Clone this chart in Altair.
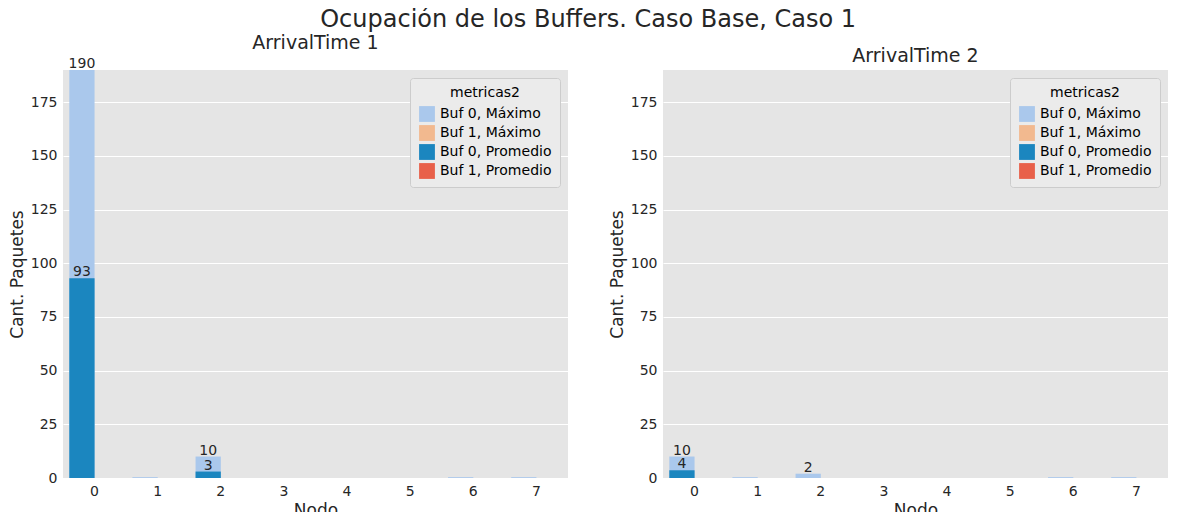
import altair as alt
import pandas as pd

nodos = [0, 1, 2, 3, 4, 5, 6, 7]
series = ["Buf 0, Máximo", "Buf 1, Máximo", "Buf 0, Promedio", "Buf 1, Promedio"]
colores = ["#aac8ec", "#f2b98f", "#1b86bf", "#e8604a"]

# panel 1: ArrivalTime 1
at1_buf0_max = [190, 0.4, 10, 0, 0, 0, 0.4, 0.4]
at1_buf1_max = [0, 0, 0, 0, 0, 0, 0, 0]
at1_buf0_prom = [93, 0, 3, 0, 0, 0, 0, 0]
at1_buf1_prom = [0, 0, 0, 0, 0, 0, 0, 0]
# panel 2: ArrivalTime 2
at2_buf0_max = [10, 0.4, 2, 0, 0, 0, 0.4, 0.4]
at2_buf1_max = [0, 0, 0, 0, 0, 0, 0, 0]
at2_buf0_prom = [3.6, 0, 0, 0, 0, 0, 0, 0]
at2_buf1_prom = [0, 0, 0, 0, 0, 0, 0, 0]


def make_df(b0max, b1max, b0prom, b1prom):
    rows = []
    for vals, name, buf, capa in [(b0max, series[0], "Buf 0", 0), (b1max, series[1], "Buf 1", 0),
                                  (b0prom, series[2], "Buf 0", 1), (b1prom, series[3], "Buf 1", 1)]:
        for n, v in zip(nodos, vals):
            rows.append({"Nodo": n, "valor": v, "metricas2": name, "buf": buf, "capa": capa,
                         "label": str(round(v)) if v >= 1 else ""})
    return pd.DataFrame(rows)


def panel(df, title):
    x = alt.X("Nodo:O", title="Nodo", scale=alt.Scale(paddingInner=0.2, paddingOuter=0.1),
              axis=alt.Axis(labelAngle=0))
    xo = alt.XOffset("buf:N", scale=alt.Scale(domain=["Buf 0", "Buf 1"]))
    y = alt.Y("valor:Q", title="Cant. Paquetes", scale=alt.Scale(domain=[0, 190], nice=False),
              axis=alt.Axis(values=[0, 25, 50, 75, 100, 125, 150, 175]))
    color = alt.Color("metricas2:N", title="metricas2",
                      scale=alt.Scale(domain=series, range=colores), sort=series,
                      legend=alt.Legend(orient="top-right", fillColor="#ebebeb", padding=8,
                                        strokeColor="#cccccc", cornerRadius=3, offset=8,
                                        symbolType="square", symbolSize=250))
    base = alt.Chart(df)
    maxb = base.transform_filter("datum.capa == 0").mark_bar().encode(x=x, xOffset=xo, y=y, color=color)
    prom = base.transform_filter("datum.capa == 1").mark_bar().encode(x=x, xOffset=xo, y=y, color=color)
    txt = base.mark_text(dy=-6, fontSize=14, color="#262626").encode(
        x=x, xOffset=xo, y=y, text="label:N")
    return (maxb + prom + txt).properties(width=505, height=408, title=title)


p1 = panel(make_df(at1_buf0_max, at1_buf1_max, at1_buf0_prom, at1_buf1_prom), "ArrivalTime 1")
p2 = panel(make_df(at2_buf0_max, at2_buf1_max, at2_buf0_prom, at2_buf1_prom), "ArrivalTime 2")

chart = alt.hconcat(p1, p2, spacing=40).resolve_scale(color="independent").resolve_legend(
    color="independent"
).properties(
    title=alt.Title("Ocupación de los Buffers. Caso Base, Caso 1", fontSize=24, fontWeight="normal",
                    anchor="middle", color="#262626", offset=2),
    padding={"left": 0, "top": 0, "right": 0, "bottom": 0}
).configure_view(fill="#e5e5e5", stroke=None).configure_axis(
    grid=True, gridColor="white", gridWidth=1, domain=False, ticks=False,
    labelFontSize=14, titleFontSize=17, titleFontWeight="normal", labelColor="#262626",
    titleColor="#262626", labelFont="DejaVu Sans", titleFont="DejaVu Sans", labelPadding=6
).configure_axisX(grid=False).configure_title(
    fontSize=19, fontWeight="normal", font="DejaVu Sans", color="#262626", offset=4
).configure_legend(
    labelFontSize=14, titleFontSize=14, titleFontWeight="normal", labelFont="DejaVu Sans",
    titleFont="DejaVu Sans", titleAnchor="middle"
).configure_text(font="DejaVu Sans")

chart.save("out.html", embed_options={"renderer": "svg", "actions": False})
